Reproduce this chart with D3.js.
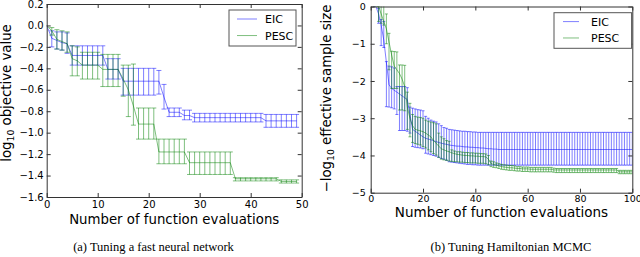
<!DOCTYPE html>
<html>
<head>
<meta charset="utf-8">
<script src="https://cdn.jsdelivr.net/npm/d3@7"></script>
<style>
  body { margin: 0; background: #fff; }
  text { font-family: "DejaVu Sans", sans-serif; }
  .cap { font-family: "Liberation Serif", serif; }
</style>
</head>
<body>
<script>
// ---- data, panel (a): fast neural network, x = 0..49
const xA = d3.range(0, 50)
const eicA = [0, -0.12, -0.14, -0.16, -0.17,
  -0.28, -0.28, -0.28, -0.28, -0.28, -0.28, -0.28,
  -0.41, -0.41, -0.41,
  -0.52, -0.52, -0.52, -0.52, -0.52, -0.52, -0.52, -0.52,
  -0.67, -0.81, -0.81, -0.81, -0.84, -0.84,
  -0.86, -0.86, -0.86, -0.86, -0.86, -0.86, -0.86, -0.86, -0.86, -0.86, -0.86, -0.86, -0.86, -0.86,
  -0.89, -0.89, -0.89, -0.89, -0.89, -0.89, -0.89]
const eicAHi = [0, -0.05, -0.06, -0.06, -0.07,
  -0.19, -0.19, -0.19, -0.19, -0.19, -0.19, -0.19,
  -0.31, -0.31, -0.31,
  -0.40, -0.40, -0.40, -0.40, -0.40, -0.40, -0.40, -0.42,
  -0.55, -0.77, -0.77, -0.77, -0.79, -0.79,
  -0.82, -0.82, -0.82, -0.82, -0.82, -0.82, -0.82, -0.82, -0.82, -0.82, -0.82, -0.82, -0.82, -0.82,
  -0.83, -0.83, -0.83, -0.83, -0.83, -0.83, -0.83]
const eicALo = [0, -0.20, -0.22, -0.23, -0.26,
  -0.37, -0.37, -0.37, -0.37, -0.37, -0.37, -0.37,
  -0.50, -0.50, -0.50,
  -0.65, -0.65, -0.65, -0.65, -0.65, -0.65, -0.65, -0.64,
  -0.78, -0.85, -0.85, -0.85, -0.88, -0.88,
  -0.90, -0.90, -0.90, -0.90, -0.90, -0.90, -0.90, -0.90, -0.90, -0.90, -0.90, -0.90, -0.90, -0.90,
  -0.95, -0.95, -0.95, -0.95, -0.95, -0.95, -0.95]
const pescA = [0, -0.05, -0.13, -0.15, -0.17, -0.31, -0.33,
  -0.37, -0.37, -0.37, -0.37,
  -0.41, -0.41, -0.41, -0.41,
  -0.50, -0.60, -0.75,
  -0.92, -0.92, -0.92, -0.92,
  -1.18, -1.18, -1.18, -1.18, -1.18, -1.18,
  -1.28, -1.28, -1.28, -1.28, -1.28, -1.28, -1.28, -1.28, -1.28,
  -1.43, -1.43, -1.43, -1.43, -1.43, -1.43, -1.43, -1.43, -1.43,
  -1.455, -1.455, -1.455, -1.455]
const pescAHi = [0, -0.02, -0.04, -0.05, -0.06, -0.19, -0.20,
  -0.25, -0.25, -0.25, -0.25,
  -0.27, -0.27, -0.27, -0.27,
  -0.37, -0.37, -0.36,
  -0.77, -0.77, -0.77, -0.77,
  -1.06, -1.06, -1.06, -1.06, -1.06, -1.06,
  -1.18, -1.18, -1.18, -1.18, -1.18, -1.18, -1.18, -1.18, -1.18,
  -1.42, -1.42, -1.42, -1.42, -1.42, -1.42, -1.42, -1.42, -1.42,
  -1.44, -1.44, -1.44, -1.44]
const pescALo = [0, -0.09, -0.22, -0.23, -0.25, -0.47, -0.47,
  -0.50, -0.50, -0.50, -0.50,
  -0.57, -0.57, -0.57, -0.57,
  -0.66, -0.85, -0.93,
  -1.06, -1.06, -1.06, -1.06,
  -1.29, -1.29, -1.29, -1.29, -1.29, -1.29,
  -1.39, -1.39, -1.39, -1.39, -1.39, -1.39, -1.39, -1.39, -1.39,
  -1.45, -1.45, -1.45, -1.45, -1.45, -1.45, -1.45, -1.45, -1.45,
  -1.47, -1.47, -1.47, -1.47]

// ---- data, panel (b): Hamiltonian MCMC, x = 1..100
const xB = d3.range(1, 101)
const eicB = [0, 0, -0.2, -0.5, -0.9, -1.5, -2.1, -2.2, -2.25, -2.3,
  -2.35, -2.4, -2.45, -2.5, -2.9, -3.3, -3.35, -3.4, -3.45, -3.5,
  -3.54, -3.56, -3.58, -3.6, -3.63, -3.65, -3.67, -3.69, -3.7, -3.72,
  -3.73, -3.74, -3.75, -3.75, -3.76, -3.77, -3.77, -3.78, -3.78, -3.79,
  -3.79, -3.8, -3.8, -3.81, -3.82, -3.82, -3.83, -3.83, -3.84, -3.84,
  -3.84, -3.84, -3.84, -3.84, -3.84, -3.84, -3.84, -3.84, -3.84, -3.84,
  -3.84, -3.84, -3.84, -3.84, -3.84, -3.84, -3.84, -3.84, -3.84, -3.84,
  -3.84, -3.84, -3.84, -3.84, -3.84, -3.84, -3.84, -3.84, -3.84, -3.84,
  -3.84, -3.84, -3.84, -3.84, -3.84, -3.84, -3.84, -3.84, -3.84, -3.84,
  -3.84, -3.84, -3.84, -3.84, -3.84, -3.84, -3.84, -3.84, -3.84, -3.84]
const eicBHi = [0, 0, -0.05, -0.35, -0.4, -1.48, -1.6, -1.62, -1.65, -2.15,
  -2.15, -2.15, -2.15, -2.18, -2.7, -2.73, -2.75, -2.77, -2.78, -2.8,
  -2.95, -3.0, -3.05, -3.08, -3.1, -3.15, -3.2, -3.25, -3.27, -3.3,
  -3.31, -3.32, -3.33, -3.34, -3.35, -3.35, -3.36, -3.36, -3.37, -3.37,
  -3.38, -3.38, -3.38, -3.38, -3.38, -3.38, -3.38, -3.38, -3.38, -3.38,
  -3.38, -3.38, -3.38, -3.38, -3.38, -3.38, -3.38, -3.38, -3.38, -3.38,
  -3.38, -3.38, -3.38, -3.38, -3.38, -3.38, -3.38, -3.38, -3.38, -3.38,
  -3.38, -3.38, -3.38, -3.38, -3.38, -3.38, -3.38, -3.38, -3.38, -3.38,
  -3.38, -3.38, -3.38, -3.38, -3.38, -3.38, -3.38, -3.38, -3.38, -3.38,
  -3.38, -3.38, -3.38, -3.38, -3.38, -3.38, -3.38, -3.38, -3.38, -3.38]
const eicBLo = [0, 0, -0.45, -1.05, -1.1, -2.69, -2.7, -2.72, -2.75, -2.9,
  -3.33, -3.33, -3.33, -3.35, -3.4, -3.76, -3.78, -3.79, -3.8, -3.82,
  -3.94, -3.96, -3.98, -4.0, -4.02, -4.05, -4.08, -4.1, -4.13, -4.17,
  -4.18, -4.19, -4.2, -4.21, -4.22, -4.23, -4.24, -4.24, -4.25, -4.25,
  -4.26, -4.26, -4.26, -4.26, -4.26, -4.26, -4.26, -4.26, -4.26, -4.26,
  -4.26, -4.26, -4.26, -4.26, -4.26, -4.26, -4.26, -4.26, -4.26, -4.26,
  -4.26, -4.26, -4.26, -4.26, -4.26, -4.26, -4.26, -4.26, -4.26, -4.26,
  -4.26, -4.26, -4.26, -4.26, -4.26, -4.26, -4.26, -4.26, -4.26, -4.26,
  -4.26, -4.26, -4.26, -4.26, -4.26, -4.26, -4.26, -4.26, -4.26, -4.26,
  -4.26, -4.26, -4.26, -4.26, -4.26, -4.26, -4.26, -4.26, -4.26, -4.26]
const pescB = [0, 0, 0, -0.2, -0.4, -0.6, -0.95, -1.3, -1.6, -1.7,
  -1.8, -1.95, -2.15, -2.7, -3.0, -3.2, -3.3, -3.32, -3.34, -3.36,
  -3.4, -3.45, -3.5, -3.6, -3.67, -3.75, -3.82, -3.85, -3.88, -3.9,
  -3.93, -3.95, -3.97, -3.98, -3.99, -4.0, -4.0, -4.01, -4.01, -4.02,
  -4.02, -4.03, -4.03, -4.04, -4.1, -4.22, -4.24, -4.26, -4.28, -4.3,
  -4.31, -4.32, -4.33, -4.33, -4.34, -4.35, -4.35, -4.36, -4.36, -4.36,
  -4.37, -4.37, -4.37, -4.37, -4.37, -4.37, -4.37, -4.37, -4.37, -4.39,
  -4.39, -4.39, -4.39, -4.39, -4.39, -4.39, -4.39, -4.39, -4.39, -4.39,
  -4.39, -4.39, -4.39, -4.39, -4.39, -4.39, -4.39, -4.39, -4.39, -4.39,
  -4.39, -4.39, -4.39, -4.39, -4.44, -4.44, -4.44, -4.44, -4.44, -4.44]
const pescBHi = [0, 0, 0, 0.05, 0.1, -0.2, -0.72, -1.2, -1.21, -1.22,
  -1.57, -1.57, -1.58, -2.3, -2.6, -2.9, -2.95, -2.97, -2.98, -3.0,
  -3.05, -3.08, -3.1, -3.12, -3.15, -3.4, -3.5, -3.55, -3.6, -3.62,
  -3.85, -3.88, -3.9, -3.9, -3.91, -3.92, -3.92, -3.93, -3.93, -3.94,
  -3.94, -3.95, -3.95, -3.96, -4.0, -4.15, -4.17, -4.2, -4.22, -4.24,
  -4.25, -4.26, -4.27, -4.27, -4.28, -4.3, -4.3, -4.31, -4.31, -4.31,
  -4.32, -4.32, -4.32, -4.32, -4.32, -4.32, -4.32, -4.32, -4.32, -4.34,
  -4.35, -4.35, -4.35, -4.35, -4.35, -4.35, -4.35, -4.35, -4.35, -4.35,
  -4.35, -4.35, -4.35, -4.35, -4.35, -4.35, -4.35, -4.35, -4.35, -4.35,
  -4.35, -4.35, -4.35, -4.35, -4.4, -4.4, -4.4, -4.4, -4.4, -4.4]
const pescBLo = [0, 0, -0.4, -0.45, -0.5, -1.0, -1.7, -2.2, -2.2, -2.2,
  -2.78, -2.78, -2.8, -3.3, -3.5, -3.65, -3.68, -3.7, -3.72, -3.76,
  -3.8, -3.85, -3.9, -3.95, -3.99, -4.05, -4.1, -4.12, -4.13, -4.15,
  -4.16, -4.17, -4.17, -4.18, -4.18, -4.19, -4.19, -4.2, -4.2, -4.2,
  -4.21, -4.21, -4.21, -4.22, -4.25, -4.3, -4.32, -4.33, -4.35, -4.37,
  -4.38, -4.39, -4.4, -4.4, -4.41, -4.42, -4.42, -4.43, -4.43, -4.43,
  -4.44, -4.44, -4.44, -4.44, -4.44, -4.44, -4.44, -4.44, -4.44, -4.45,
  -4.46, -4.46, -4.46, -4.46, -4.46, -4.46, -4.46, -4.46, -4.46, -4.46,
  -4.46, -4.46, -4.46, -4.46, -4.46, -4.46, -4.46, -4.46, -4.46, -4.46,
  -4.46, -4.46, -4.46, -4.46, -4.49, -4.49, -4.49, -4.49, -4.49, -4.49]

const seriesNames = ['EIC', 'PESC']
const ticksA = { x: [0, 10, 20, 30, 40, 50], y: [0.2, 0, -0.2, -0.4, -0.6, -0.8, -1.0, -1.2, -1.4, -1.6] }
const ticksB = { x: [0, 20, 40, 60, 80, 100], y: [0, -1, -2, -3, -4, -5] }

const blue = 'rgba(0,0,255,0.5)'
const green = 'rgba(0,128,0,0.5)'

const svg = d3.select('body').append('svg')
    .attr('width', 640)
    .attr('height', 257)

// one panel with two errorbar series
function panel(p) {
    const x = d3.scaleLinear().domain(p.xDomain).range([p.left, p.right])
    const y = d3.scaleLinear().domain(p.yDomain).range([p.bottom, p.top])
    const g = svg.append('g')

    g.append('clipPath').attr('id', p.id)
      .append('rect')
        .attr('x', p.left).attr('y', p.top)
        .attr('width', p.right - p.left).attr('height', p.bottom - p.top)

    const plot = g.append('g').attr('clip-path', `url(#${p.id})`)
    const line = d3.line().x(d => x(d.x)).y(d => y(d.m))

    p.series.forEach(s => {
        const pts = p.xs.map((v, i) => ({ x: v, m: s.mean[i], hi: s.hi[i], lo: s.lo[i] }))
        const bars = pts.filter(d => d.hi !== d.lo)
        const sg = plot.append('g').attr('stroke', s.color).attr('fill', 'none').attr('stroke-width', 1)
        sg.selectAll('line.v').data(bars).join('line')
            .attr('x1', d => x(d.x)).attr('x2', d => x(d.x))
            .attr('y1', d => y(d.hi)).attr('y2', d => y(d.lo))
        sg.selectAll('line.ct').data(bars).join('line')
            .attr('x1', d => x(d.x) - p.cap).attr('x2', d => x(d.x) + p.cap)
            .attr('y1', d => y(d.hi)).attr('y2', d => y(d.hi))
        sg.selectAll('line.cb').data(bars).join('line')
            .attr('x1', d => x(d.x) - p.cap).attr('x2', d => x(d.x) + p.cap)
            .attr('y1', d => y(d.lo)).attr('y2', d => y(d.lo))
        sg.append('path').datum(pts).attr('d', line)
    })

    // frame and inward ticks on all sides
    const axes = [
        [d3.axisBottom(x), `translate(0,${p.bottom})`, p.xTicks, true, p.padX],
        [d3.axisTop(x), `translate(0,${p.top})`, p.xTicks, false, 0],
        [d3.axisLeft(y), `translate(${p.left},0)`, p.yTicks, true, p.padY],
        [d3.axisRight(y), `translate(${p.right},0)`, p.yTicks, false, 0]
    ]
    axes.forEach(([ax, tr, tv, lab, pad], k) => {
        const a = g.append('g').attr('transform', tr)
            .call(ax.tickValues(tv).tickSizeInner(-4).tickSizeOuter(0)
                .tickPadding(pad)
                .tickFormat(lab ? (k < 2 ? p.xFmt : p.yFmt) : ''))
        a.select('.domain').attr('stroke', '#333')
        a.selectAll('.tick line').attr('stroke', '#333')
        a.selectAll('text').attr('font-size', p.tickSize)
            .attr('font-family', p.tickFont).attr('fill', '#000')
    })

    // legend
    const lg = g.append('g')
    lg.append('rect')
        .attr('x', p.legend.x).attr('y', p.legend.y)
        .attr('width', p.legend.w).attr('height', p.legend.h)
        .attr('fill', '#fff').attr('stroke', '#555').attr('stroke-width', 1)
    p.series.forEach((s, i) => {
        const ly = p.legend.y + p.legend.h * (0.25 + 0.46 * i)
        lg.append('line')
            .attr('x1', p.legend.x + p.legend.l0).attr('x2', p.legend.x + p.legend.l1)
            .attr('y1', ly).attr('y2', ly)
            .attr('stroke', s.color)
        lg.append('text')
            .attr('x', p.legend.x + p.legend.tx).attr('y', ly + 4)
            .attr('font-size', 11)
            .text(seriesNames[i])
    })

    // axis labels
    g.append('text')
        .attr('x', (p.left + p.right) / 2).attr('y', p.xLabelY)
        .attr('text-anchor', 'middle').attr('font-size', p.xLabelSize)
        .attr('font-family', p.xLabelFont)
        .text('Number of function evaluations')

    const yl = g.append('text')
        .attr('transform', `translate(${p.yLabelX},${p.yLabelC})rotate(-90)`)
        .attr('text-anchor', 'middle').attr('font-size', p.yLabelSize)
    yl.append('tspan').text(p.yLabel[0])
    yl.append('tspan').attr('font-size', p.yLabelSize * 0.7).attr('dy', 3).text('10')
    yl.append('tspan').attr('dy', -3).text(p.yLabel[1])

    g.append('text').attr('class', 'cap')
        .attr('x', p.capX).attr('y', 251)
        .attr('text-anchor', 'middle').attr('font-size', 12.5)
        .text(p.caption)
}

const minus = v => d3.format('.1f')(v).replace('-', '\u2212')

panel({
    id: 'clipA', left: 46.7, right: 301.7, top: 4, bottom: 197,
    xDomain: [0, 50], yDomain: [-1.6, 0.2], xs: xA, cap: 2.5,
    xTicks: ticksA.x, yTicks: ticksA.y,
    xFmt: d3.format('d'), yFmt: minus, tickSize: 10,
    tickFont: '"DejaVu Sans", sans-serif', padX: 4, padY: 3,
    series: [
        { mean: eicA, hi: eicAHi, lo: eicALo, color: blue },
        { mean: pescA, hi: pescAHi, lo: pescALo, color: green }
    ],
    legend: { x: 229, y: 10, w: 67, h: 36, l0: 8, l1: 28, tx: 36 },
    xLabelSize: 13.3, xLabelFont: '"DejaVu Sans", sans-serif', xLabelY: 224,
    yLabelSize: 13.3, yLabelX: 11, yLabelC: 93,
    yLabel: ['log', ' objective value'],
    capX: 153.5, caption: '(a) Tuning a fast neural network'
})

panel({
    id: 'clipB', left: 370.7, right: 632.3, top: 6.5, bottom: 192.7,
    xDomain: [0, 100], yDomain: [-5, 0], xs: xB, cap: 1.5,
    xTicks: ticksB.x, yTicks: ticksB.y,
    xFmt: d3.format('d'), yFmt: d3.format('d'), tickSize: 9.5,
    tickFont: '"Liberation Sans", Arial, sans-serif', padX: 2.2, padY: 5,
    series: [
        { mean: eicB, hi: eicBHi, lo: eicBLo, color: blue },
        { mean: pescB, hi: pescBHi, lo: pescBLo, color: green }
    ],
    legend: { x: 554, y: 12.7, w: 77.6, h: 35.6, l0: 9, l1: 25, tx: 37 },
    xLabelSize: 13.5, xLabelFont: '"Liberation Sans", Arial, sans-serif', xLabelY: 217.3,
    yLabelSize: 13.3, yLabelX: 331, yLabelC: 98.5,
    yLabel: ['\u2212log', ' effective sample size'],
    capX: 511, caption: '(b) Tuning Hamiltonian MCMC'
})
</script>
</body>
</html>
